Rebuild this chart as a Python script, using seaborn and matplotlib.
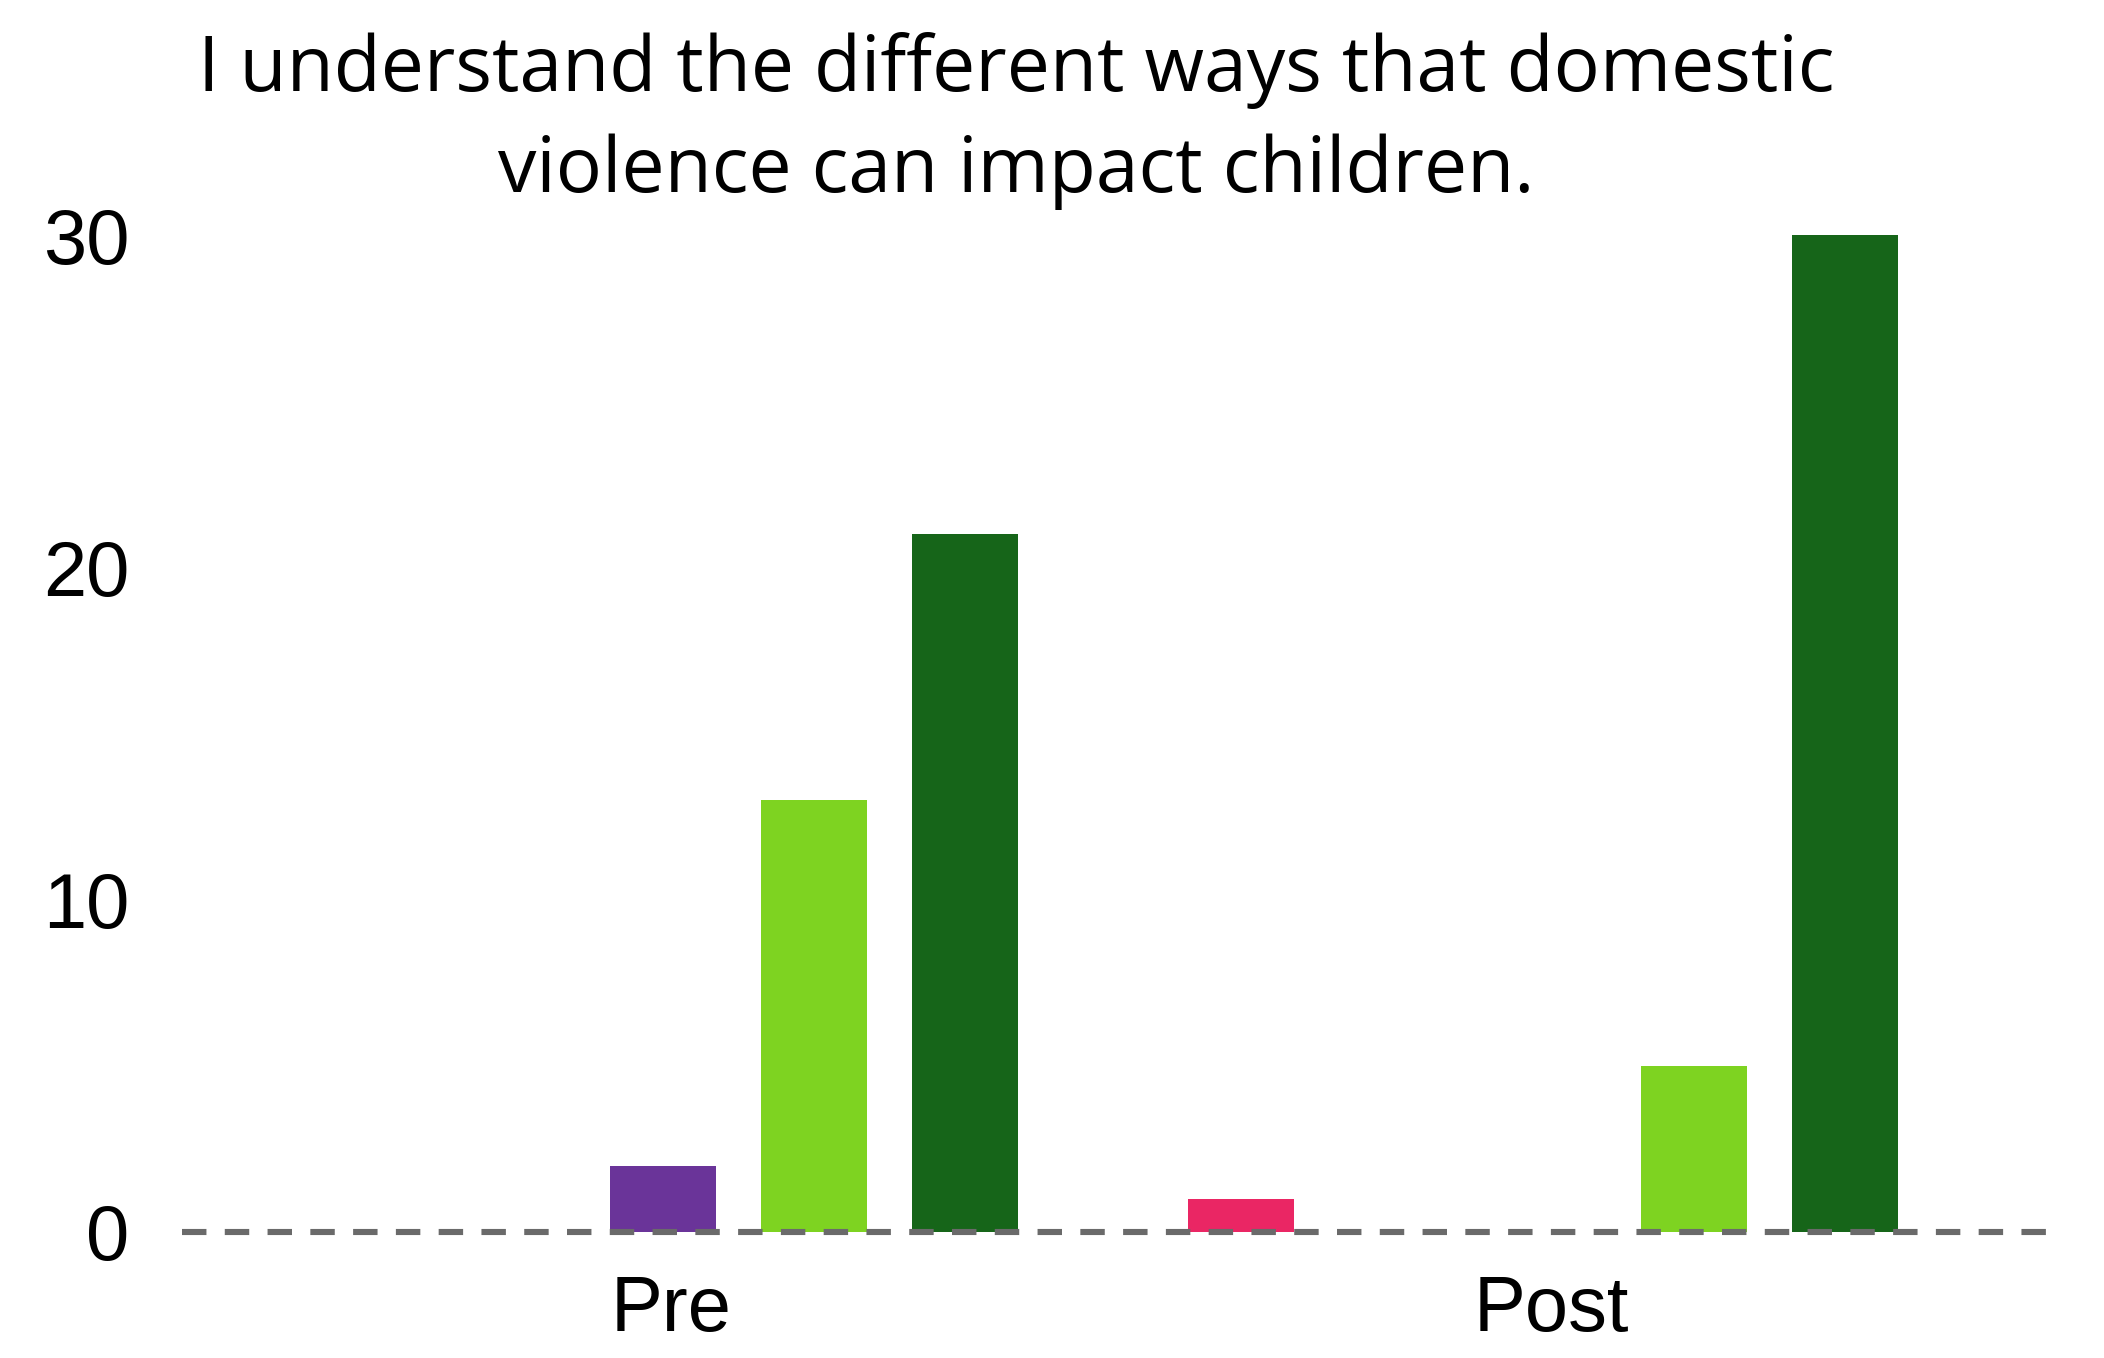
import matplotlib
matplotlib.use("Agg")
import matplotlib.pyplot as plt
import matplotlib.transforms as mtransforms
import pandas as pd
import seaborn as sns

# Survey responses, counted before and after the session
groups = ["Pre", "Post"]
responses = ["Strongly disagree", "Disagree", "Neutral", "Agree", "Strongly agree"]
pre_counts = [0, 0, 2, 13, 21]
post_counts = [1, 0, 0, 5, 30]
response_colors = ["#EA2664", "#F5A623", "#6A3499", "#7ED321", "#166519"]

title_text = "I understand the different ways that domestic\nviolence can impact children."
y_ticks = [0, 10, 20, 30]

df = pd.DataFrame({
    "group": [g for g in groups for _ in responses],
    "response": responses * len(groups),
    "count": pre_counts + post_counts,
})

sns.set_theme(style="white")
plt.rcParams["font.family"] = ["Liberation Sans", "DejaVu Sans"]

W, H, DPI = 2104, 1358, 200
fig = plt.figure(figsize=(W / DPI, H / DPI), dpi=DPI)
fig.patch.set_facecolor("white")

ax_left, ax_right = 182, 2054
ax_top, ax_bottom = 218.4, 1248.6
ax = fig.add_axes([ax_left / W, 1 - ax_bottom / H,
                   (ax_right - ax_left) / W, (ax_bottom - ax_top) / H])

sns.barplot(
    data=df, x="group", y="count", hue="response",
    order=groups, hue_order=responses,
    palette=dict(zip(responses, response_colors)),
    width=0.858, gap=0.3, saturation=1, legend=False,
    linewidth=0, ax=ax, zorder=2,
)

# dashed zero line across the full plot width
ax.axhline(0, color="#6a6a6a", linewidth=2.2, linestyle=(0, (4, 3)), zorder=3)

ax.set_xlim(-0.547, 1.581)
ax.set_ylim(-0.5, 30.5)
ax.set_yticks(y_ticks)
ax.set_yticklabels([str(t) for t in y_ticks])
ax.set_xlabel("")
ax.set_ylabel("")
ax.tick_params(axis="y", length=0, pad=19, labelsize=28, labelcolor="black")
ax.tick_params(axis="x", length=0, pad=9, labelsize=28, labelcolor="black")

# nudge category labels slightly to the right
shift = mtransforms.ScaledTranslation(8 / DPI, 0, fig.dpi_scale_trans)
for lbl in ax.get_xticklabels():
    lbl.set_transform(lbl.get_transform() + shift)

for side in ["top", "right", "left", "bottom"]:
    ax.spines[side].set_visible(False)
ax.grid(False)
ax.set_facecolor("white")

fig.text(1016 / W, 1 - 32 / H, title_text, ha="center", va="top",
         fontsize=27.7, color="black", linespacing=1.42,
         family=["Open Sans", "DejaVu Sans"])

fig.savefig("out.png", dpi=DPI, facecolor="white")
